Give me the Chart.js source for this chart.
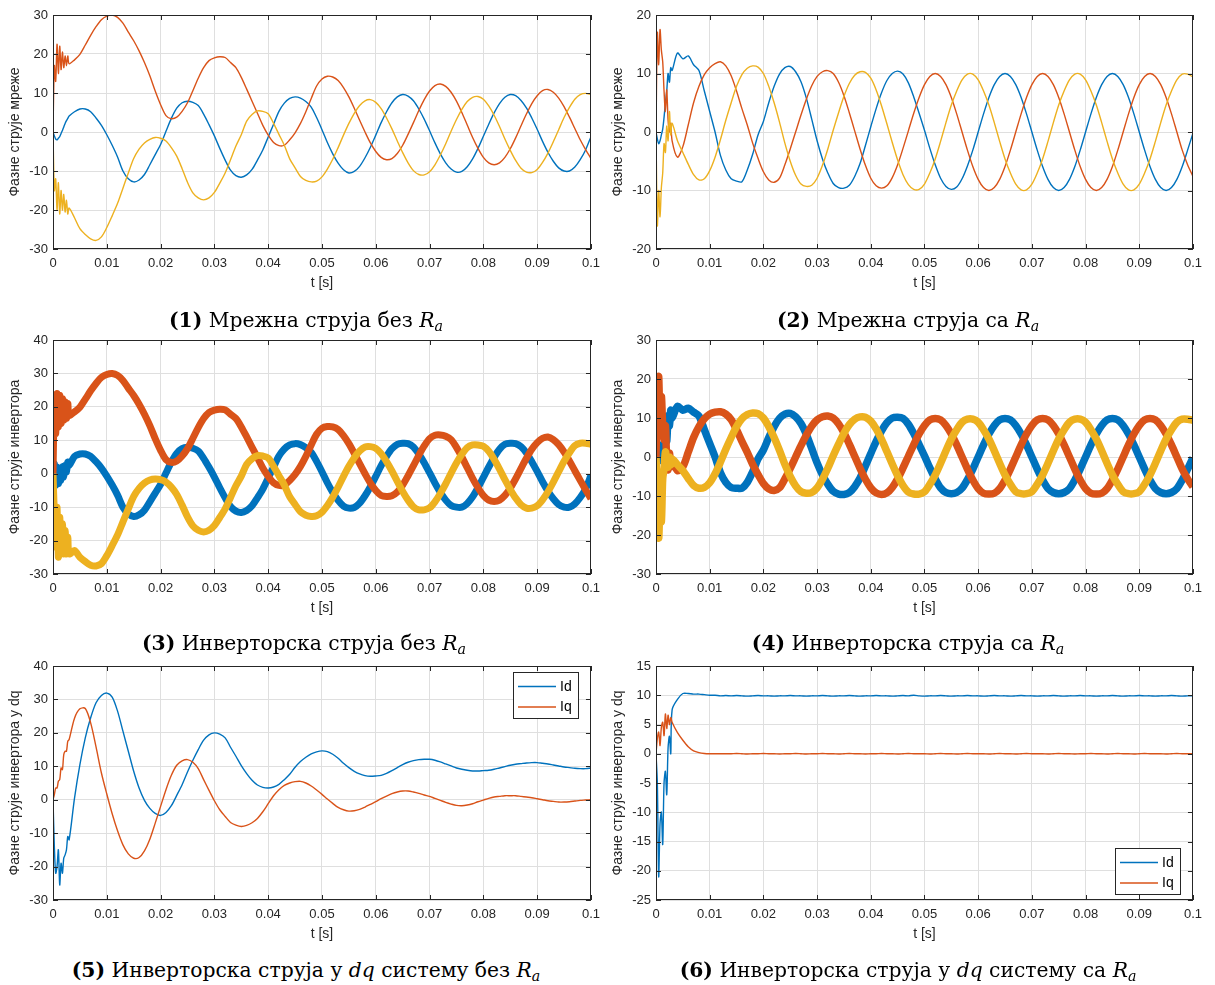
<!DOCTYPE html>
<html>
<head>
<meta charset="utf-8">
<script src="https://cdn.jsdelivr.net/npm/chart.js@4.4.1/dist/chart.umd.min.js"></script>
<style>
  body { margin: 0; background: #fff; width: 1215px; height: 985px; position: relative; overflow: hidden; }
  canvas { position: absolute; }
  .cap { position: absolute; width: 600px; text-align: center; white-space: nowrap;
         font-family: "DejaVu Serif", "Liberation Serif", serif; font-size: 20.3px; line-height: 24px; color: #000; }
  .cap sub { font-size: 0.7em; vertical-align: -0.25em; line-height: 0; }
</style>
</head>
<body>
<canvas id="c1" width="607" height="300" style="left:0;top:0"></canvas>
<canvas id="c2" width="606" height="300" style="left:603px;top:0"></canvas>
<canvas id="c3" width="607" height="300" style="left:0;top:325px"></canvas>
<canvas id="c4" width="606" height="300" style="left:603px;top:325px"></canvas>
<canvas id="c5" width="607" height="300" style="left:0;top:651px"></canvas>
<canvas id="c6" width="606" height="300" style="left:603px;top:651px"></canvas>

<div class="cap" style="left:6px;top:308px"><b>(1)</b> Мрежна струја без <i>R</i><sub><i>a</i></sub></div>
<div class="cap" style="left:608px;top:308px"><b>(2)</b> Мрежна струја са <i>R</i><sub><i>a</i></sub></div>
<div class="cap" style="left:4px;top:631px"><b>(3)</b> Инверторска струја без <i>R</i><sub><i>a</i></sub></div>
<div class="cap" style="left:608px;top:631px"><b>(4)</b> Инверторска струја са <i>R</i><sub><i>a</i></sub></div>
<div class="cap" style="left:6px;top:958px"><b>(5)</b> Инверторска струја у <i>dq</i> систему без <i>R</i><sub><i>a</i></sub></div>
<div class="cap" style="left:608px;top:958px"><b>(6)</b> Инверторска струја у <i>dq</i> систему са <i>R</i><sub><i>a</i></sub></div>

<script>
// time samples in ms (denser at the start, where the switching transient is)
const timeMs = [0, 0.25, 0.5, 0.75, 1, 1.25, 1.5, 1.75, 2, 2.25, 2.5, 2.75, 3,
  4, 5, 6, 7, 8, 9, 10, 11, 12, 13,
  14, 15, 16, 17, 18, 19, 20, 21, 22, 23,
  24, 25, 26, 27, 28, 29, 30, 31, 32, 33,
  34, 35, 36, 37, 38, 39, 40, 41, 42, 43,
  44, 45, 46, 47, 48, 49, 50, 51, 52, 53,
  54, 55, 56, 57, 58, 59, 60, 61, 62, 63,
  64, 65, 66, 67, 68, 69, 70, 71, 72, 73,
  74, 75, 76, 77, 78, 79, 80, 81, 82, 83,
  84, 85, 86, 87, 88, 89, 90, 91, 92, 93,
  94, 95, 96, 97, 98, 99, 100];

const xTickValues = [0, 0.01, 0.02, 0.03, 0.04, 0.05, 0.06, 0.07, 0.08, 0.09, 0.1];
const xTickLabels = ['0', '0.01', '0.02', '0.03', '0.04', '0.05', '0.06', '0.07', '0.08', '0.09', '0.1'];

// (1) grid current without Ra
const gridNoRaA = [0, -1.0, -1.8, -2.0, -1.6, -1.2, -0.4, 0.4, 1.3, 2.2, 2.9, 3.5, 4.1,
  5.2, 5.9, 5.9, 5.2, 3.6, 1.7, -0.7, -3.4, -6.4, -10.0,
  -12.0, -12.8, -12.3, -10.9, -8.4, -5.8, -3.2, 0.2, 3.5, 6.1,
  7.5, 7.9, 7.6, 6.8, 4.6, 1.9, -1.0, -4.2, -7.2, -9.8,
  -11.2, -11.6, -11.0, -9.6, -7.2, -4.6, -1.3, 2.0, 5.3, 7.4,
  8.6, 9.0, 8.7, 7.8, 6.4, 3.7, 0.6, -2.7, -5.6, -8.0,
  -9.7, -10.5, -10.1, -8.8, -6.6, -3.9, -0.8, 2.4, 5.2, 7.5,
  9.0, 9.6, 9.2, 8.0, 5.9, 3.3, 0.3, -2.8, -5.6, -7.9,
  -9.5, -10.3, -10.1, -8.9, -6.9, -4.2, -1.1, 2.0, 4.9, 7.3,
  8.9, 9.6, 9.3, 8.1, 6.2, 3.6, 0.7, -2.4, -5.2, -7.5,
  -9.2, -10.0, -10.0, -9.0, -7.1, -4.6, -1.2];
const gridNoRaB = [0, 17, 13, 22.5, 15, 22, 16, 20.5, 16.5, 19.5, 17, 19.5, 17.5,
  18.5, 19.9, 22.3, 24.8, 27.0, 28.8, 29.7, 30.0, 29.4, 27.9,
  25.6, 23.4, 20.8, 17.8, 14.4, 10.5, 7.0, 4.2, 3.4, 3.8,
  5.3, 7.5, 10.6, 13.8, 16.5, 18.3, 19.0, 19.3, 19.1, 17.8,
  16.5, 14.0, 11.0, 7.9, 4.8, 1.7, -0.8, -2.7, -3.5, -3.4,
  -2.0, -0.2, 2.2, 5.2, 8.6, 11.8, 13.6, 14.3, 14.1, 13.2,
  11.4, 9.0, 6.1, 3.0, 0, -2.8, -5.0, -6.5, -7.1, -6.8,
  -5.5, -3.4, -0.6, 2.4, 5.5, 8.3, 10.5, 11.9, 12.3, 11.7,
  10.2, 7.9, 5.0, 1.8, -1.4, -4.2, -6.5, -7.9, -8.4, -7.9,
  -6.5, -4.3, -1.5, 1.6, 4.6, 7.3, 9.3, 10.6, 10.9, 10.2,
  8.7, 6.5, 3.8, 0.9, -2.0, -4.5, -6.8];
const gridNoRaC = [0, -15, -12, -20, -13, -21, -15, -20, -16, -20.5, -17.5, -21, -19.5,
  -22.0, -24.8, -26.3, -27.4, -27.8, -26.9, -24.5, -21.5, -18.3, -14.4,
  -10.5, -6.8, -4.4, -2.8, -1.9, -1.4, -1.6, -2.3, -4.0, -6.2,
  -9.4, -12.9, -15.6, -16.9, -17.4, -16.9, -15.5, -13.1, -10.5, -7.1,
  -3.6, -0.7, 2.8, 4.5, 5.4, 5.3, 4.7, 2.2, -0.6, -3.4,
  -6.9, -9.2, -11.4, -12.4, -12.8, -12.6, -11.5, -9.5, -7.0, -4.0,
  -0.8, 2.2, 4.8, 6.8, 8.0, 8.3, 7.6, 6.0, 3.6, 0.8,
  -2.3, -5.3, -7.9, -9.9, -10.9, -11.0, -10.2, -8.4, -5.9, -3.0,
  0.2, 3.2, 5.8, 7.8, 8.9, 9.1, 8.4, 6.7, 4.3, 1.4,
  -1.8, -4.7, -7.3, -9.3, -10.3, -10.4, -9.6, -7.8, -5.4, -2.5,
  0.6, 3.7, 6.3, 8.4, 9.6, 9.9, 9.6];

// (2) grid current with Ra
const gridRaA = [0, -1.2, -2.0, -1.5, -0.5, 0.5, 2.5, 5.0, 7.0, 10.0, 8.5, 11.0, 10.5,
  13.5, 12.5, 13.0, 11.5, 10.5, 7.0, 3.5, 0, -4.0, -6.5,
  -8.0, -8.4, -8.5, -6.5, -3.8, -0.5, 1.8, 5.0, 7.8, 9.9,
  11.0, 11.2, 10.3, 8.6, 5.8, 2.2, -1.5, -4.6, -7.0, -8.8,
  -9.5, -9.6, -9.1, -7.6, -5.4, -2.3, 0.9, 4.0, 6.7, 8.8,
  10.0, 10.4, 9.9, 8.4, 6.0, 3.2, 0.3, -2.8, -5.6, -7.9,
  -9.3, -9.8, -9.4, -8.0, -5.8, -3.1, 0, 3.1, 5.9, 8.1,
  9.5, 10.0, 9.5, 8.1, 5.9, 3.1, 0, -3.1, -5.9, -8.1,
  -9.5, -10.0, -9.5, -8.1, -5.9, -3.1, 0, 3.1, 5.9, 8.1,
  9.5, 10.0, 9.5, 8.1, 5.9, 3.1, 0, -3.1, -5.9, -8.1,
  -9.5, -10.0, -9.5, -8.1, -5.9, -3.1, -0.2];
const gridRaB = [0, 17.0, 11.5, 17.5, 14.0, 12.0, 7.0, 3.5, 7.2, 2.0, 0, 1.5, -1.5,
  -4.3, -2.5, 1.2, 5.0, 7.8, 9.8, 11.0, 11.7, 12.0, 11.3,
  9.6, 7.0, 4.0, 1.2, -1.9, -4.5, -6.8, -8.2, -8.6, -7.9,
  -5.6, -2.9, 0, 2.9, 5.6, 7.9, 9.5, 10.3, 10.5, 10.0,
  8.5, 6.2, 3.3, 0.2, -2.9, -5.7, -7.9, -9.2, -9.6, -9.2,
  -7.8, -5.6, -2.8, 0.2, 3.2, 5.9, 8.1, 9.5, 10.0, 9.5,
  8.1, 5.9, 3.1, 0, -3.1, -5.9, -8.1, -9.5, -10.0, -9.5,
  -8.1, -5.9, -3.1, 0, 3.1, 5.9, 8.1, 9.5, 10.0, 9.5,
  8.1, 5.9, 3.1, 0, -3.1, -5.9, -8.1, -9.5, -10.0, -9.5,
  -8.1, -5.9, -3.1, 0, 3.1, 5.9, 8.1, 9.5, 10.0, 9.5,
  8.1, 5.9, 3.1, 0, -3.1, -5.6, -7.6];
const gridRaC = [0, -16.0, -10.0, -14.5, -9.5, -7.0, -2.0, -3.5, 1.0, -1.5, 3.5, -0.5, 1.5,
  -1.5, -3.5, -5.5, -7.3, -8.2, -8.0, -6.6, -4.3, -1.3, 2.0,
  5.0, 7.8, 9.8, 10.9, 11.3, 11.1, 10.0, 7.8, 5.0, 1.7,
  -1.9, -5.0, -7.4, -8.9, -9.3, -9.1, -7.9, -5.7, -2.9, 0.3,
  3.3, 6.1, 8.3, 9.7, 10.3, 10.2, 9.2, 7.2, 4.5, 1.4,
  -1.8, -4.8, -7.3, -9.0, -9.8, -9.8, -8.9, -7.0, -4.6, -1.6,
  1.6, 4.6, 7.0, 8.9, 9.9, 9.9, 8.9, 7.0, 4.6, 1.6,
  -1.6, -4.6, -7.0, -8.9, -9.9, -9.9, -8.9, -7.0, -4.6, -1.6,
  1.6, 4.6, 7.0, 8.9, 9.9, 9.9, 8.9, 7.0, 4.6, 1.6,
  -1.6, -4.6, -7.0, -8.9, -9.9, -9.9, -8.9, -7.0, -4.6, -1.6,
  1.6, 4.6, 7.0, 8.9, 9.9, 9.9, 9.4];

// (3) inverter current without Ra
const invNoRaA = [0, 3.0, -3.5, 2.0, -3.0, 1.5, -2.0, 2.0, -1.0, 2.5, 0.5, 3.5, 2.5,
  5.2, 5.9, 5.9, 5.2, 3.6, 1.7, -0.7, -3.4, -6.4, -10.0,
  -12.0, -12.8, -12.3, -10.9, -8.4, -5.8, -3.2, 0.2, 3.5, 6.1,
  7.5, 7.9, 7.6, 6.8, 4.6, 1.9, -1.0, -4.2, -7.2, -9.8,
  -11.2, -11.6, -11.0, -9.6, -7.2, -4.6, -1.3, 2.0, 5.3, 7.4,
  8.6, 9.0, 8.7, 7.8, 6.4, 3.7, 0.6, -2.7, -5.6, -8.0,
  -9.7, -10.3, -10.1, -8.8, -6.6, -3.9, -0.8, 2.4, 5.2, 7.5,
  8.8, 9.1, 9.0, 8.0, 5.9, 3.3, 0.3, -2.8, -5.6, -7.9,
  -9.5, -10.0, -10.0, -8.9, -6.9, -4.2, -1.1, 2.0, 4.9, 7.3,
  8.8, 9.1, 9.0, 8.1, 6.2, 3.6, 0.7, -2.4, -5.2, -7.5,
  -9.2, -10.0, -10.0, -9.0, -7.1, -4.6, -0.5];
const invNoRaB = [0, 20, 12, 24, 14, 23.5, 15, 22.5, 16, 21.5, 16.5, 21, 17.5,
  18.5, 19.9, 22.3, 24.8, 27.0, 28.8, 29.7, 30.0, 29.4, 27.9,
  25.6, 23.4, 20.8, 17.8, 14.4, 10.5, 7.0, 4.2, 3.4, 3.8,
  5.3, 7.5, 10.6, 13.8, 16.5, 18.3, 19.0, 19.3, 19.1, 17.8,
  16.5, 14.0, 11.0, 7.9, 4.8, 1.7, -0.8, -2.7, -3.5, -3.4,
  -2.0, -0.2, 2.2, 5.2, 8.6, 11.8, 13.6, 14.1, 14.0, 13.2,
  11.4, 9.0, 6.1, 3.0, 0, -2.8, -5.0, -6.5, -6.8, -6.6,
  -5.5, -3.4, -0.6, 2.4, 5.5, 8.3, 10.5, 11.5, 11.6, 11.2,
  10.2, 7.9, 5.0, 1.8, -1.4, -4.2, -6.5, -7.9, -8.3, -7.9,
  -6.5, -4.3, -1.5, 1.6, 4.6, 7.3, 9.3, 10.6, 11.0, 10.2,
  8.7, 6.5, 3.8, 0.9, -2.0, -4.8, -7.5];
const invNoRaC = [0, -12, -22, -10, -25, -13, -24, -15, -24, -17, -24, -19, -24,
  -23.0, -25.0, -26.3, -27.4, -27.6, -26.9, -24.5, -21.5, -18.3, -14.4,
  -10.5, -6.8, -4.4, -2.8, -1.9, -1.6, -1.8, -2.5, -4.0, -6.2,
  -9.4, -12.9, -15.6, -16.9, -17.4, -16.9, -15.5, -13.1, -10.5, -7.1,
  -3.6, -0.7, 2.8, 4.5, 5.4, 5.3, 4.7, 2.2, -0.6, -3.4,
  -6.9, -9.2, -11.4, -12.4, -12.8, -12.6, -11.5, -9.5, -7.0, -4.0,
  -0.8, 2.2, 4.8, 6.8, 8.0, 8.1, 7.6, 6.0, 3.6, 0.8,
  -2.3, -5.3, -7.9, -9.9, -10.8, -10.8, -10.2, -8.4, -5.9, -3.0,
  0.2, 3.2, 5.8, 7.8, 8.6, 8.6, 8.2, 6.7, 4.3, 1.4,
  -1.8, -4.7, -7.3, -9.3, -10.3, -10.3, -9.6, -7.8, -5.4, -2.5,
  0.6, 3.7, 6.3, 8.4, 9.1, 9.1, 8.8];

// (4) inverter current with Ra
const invRaA = [0, 1.5, -1.0, 3.0, 0, 2.5, 1.0, 5.0, 4.0, 10.6, 8.0, 12.0, 10.0,
  13.0, 12.0, 12.5, 11.5, 10.5, 7.0, 3.5, 0, -4.0, -6.5,
  -7.8, -8.0, -8.0, -6.5, -3.8, -0.5, 1.8, 5.0, 7.8, 9.9,
  11.0, 11.2, 10.3, 8.6, 5.8, 2.2, -1.5, -4.6, -7.0, -8.8,
  -9.5, -9.6, -9.1, -7.6, -5.4, -2.3, 0.9, 4.0, 6.7, 8.8,
  10.0, 10.2, 9.9, 8.4, 6.0, 3.2, 0.3, -2.8, -5.6, -7.9,
  -9.1, -9.4, -9.1, -8.0, -5.8, -3.1, 0, 3.1, 5.9, 8.1,
  9.5, 9.9, 9.5, 8.1, 5.9, 3.1, 0, -3.1, -5.9, -8.1,
  -9.1, -9.4, -9.1, -8.1, -5.9, -3.1, 0, 3.1, 5.9, 8.1,
  9.5, 9.9, 9.5, 8.1, 5.9, 3.1, 0, -3.1, -5.9, -8.1,
  -9.1, -9.4, -9.1, -8.1, -5.9, -3.1, -0.2];
const invRaB = [0, 15.5, 20.6, 6.9, 15.5, 8.0, 4.4, 8.0, -1.0, -3.3, 1.0, -2.5, -1.0,
  -3.5, -2.5, 1.2, 5.0, 7.8, 9.8, 11.0, 11.5, 11.6, 11.0,
  9.6, 7.0, 4.0, 1.2, -1.9, -4.5, -6.8, -8.2, -8.6, -7.9,
  -5.6, -2.9, 0, 2.9, 5.6, 7.9, 9.5, 10.3, 10.5, 10.0,
  8.5, 6.2, 3.3, 0.2, -2.9, -5.7, -7.9, -9.2, -9.6, -9.2,
  -7.8, -5.6, -2.8, 0.2, 3.2, 5.9, 8.1, 9.5, 9.9, 9.5,
  8.1, 5.9, 3.1, 0, -3.1, -5.9, -8.1, -9.3, -9.5, -9.3,
  -8.1, -5.9, -3.1, 0, 3.1, 5.9, 8.1, 9.5, 9.9, 9.5,
  8.1, 5.9, 3.1, 0, -3.1, -5.9, -8.1, -9.3, -9.5, -9.3,
  -8.1, -5.9, -3.1, 0, 3.1, 5.9, 8.1, 9.5, 9.9, 9.5,
  8.1, 5.9, 3.1, 0, -3.1, -5.6, -7.6];
const invRaC = [0, -8.5, -20.8, -12.4, -16.6, -5.6, -3.0, 1.3, -1.0, -2.6, 0, -2.0, -0.5,
  -2.0, -3.5, -5.5, -7.3, -8.0, -7.8, -6.6, -4.3, -1.3, 2.0,
  5.0, 7.8, 9.8, 10.9, 11.3, 11.1, 10.0, 7.8, 5.0, 1.7,
  -1.9, -5.0, -7.4, -8.9, -9.3, -9.1, -7.9, -5.7, -2.9, 0.3,
  3.3, 6.1, 8.3, 9.7, 10.3, 10.2, 9.2, 7.2, 4.5, 1.4,
  -1.8, -4.8, -7.3, -9.0, -9.5, -9.5, -8.9, -7.0, -4.6, -1.6,
  1.6, 4.6, 7.0, 8.9, 9.7, 9.7, 8.9, 7.0, 4.6, 1.6,
  -1.6, -4.6, -7.0, -8.9, -9.4, -9.4, -8.9, -7.0, -4.6, -1.6,
  1.6, 4.6, 7.0, 8.9, 9.7, 9.7, 8.9, 7.0, 4.6, 1.6,
  -1.6, -4.6, -7.0, -8.9, -9.4, -9.4, -8.9, -7.0, -4.6, -1.6,
  1.6, 4.6, 7.0, 8.9, 9.7, 9.7, 9.4];

// (5) dq current without Ra
const dqNoRaId = [0, -14, -22, -20, -15, -25.5, -19, -22, -17.5, -16.5, -15, -11, -12,
  0.5, 10.5, 18.5, 24.5, 29.0, 31.2, 31.9, 30.7, 26.5, 20.5,
  14.5, 8.5, 3.5, -0.2, -2.6, -4.1, -4.7, -3.8, -1.8, 1.3,
  4.5, 8.3, 11.8, 15.0, 17.8, 19.4, 20.0, 19.6, 18.5, 15.7,
  13.0, 10.2, 7.8, 5.8, 4.4, 3.7, 3.5, 3.8, 4.6, 6.0,
  7.6, 9.7, 11.4, 12.7, 13.7, 14.3, 14.6, 14.4, 13.6, 12.4,
  10.9, 9.6, 8.5, 7.7, 7.2, 7.0, 7.1, 7.3, 7.9, 8.7,
  9.6, 10.5, 11.2, 11.7, 12.0, 12.1, 12.1, 11.8, 11.3, 10.7,
  10.1, 9.5, 9.1, 8.8, 8.6, 8.6, 8.7, 8.8, 9.1, 9.5,
  9.9, 10.3, 10.6, 10.8, 11.0, 11.1, 11.1, 10.9, 10.7, 10.4,
  10.1, 9.8, 9.6, 9.4, 9.3, 9.3, 9.5];
const dqNoRaIq = [0, 1.5, 3.5, 3.5, 5.5, 6, 9.5, 9, 13.5, 14.5, 14.5, 17.5, 18,
  24.4, 27.2, 27.3, 23.0, 15.8, 8.0, 1.7, -4.2, -9.3, -13.5,
  -16.2, -17.5, -17.3, -15.3, -11.8, -7.0, -2.0, 3.0, 7.3, 10.3,
  11.6, 12.0, 11.2, 9.3, 6.0, 2.8, -0.3, -3.0, -5.0, -6.8,
  -7.6, -8.0, -7.7, -6.9, -5.6, -3.6, -1.2, 1.2, 3.0, 4.3,
  5.0, 5.4, 5.5, 5.0, 4.1, 2.9, 1.6, 0.2, -1.1, -2.3,
  -3.0, -3.4, -3.3, -2.9, -2.2, -1.4, -0.6, 0.3, 1.1, 1.8,
  2.3, 2.6, 2.6, 2.3, 1.9, 1.4, 1.0, 0.4, -0.2, -0.8,
  -1.3, -1.7, -1.8, -1.6, -1.2, -0.6, -0.1, 0.4, 0.8, 1.0,
  1.2, 1.2, 1.2, 1.0, 0.8, 0.6, 0.3, 0, -0.3, -0.5,
  -0.7, -0.7, -0.6, -0.4, -0.2, -0.1, 0];

// (6) dq current with Ra
const dqRaId = [0, -5.0, -21.0, -12.0, -10.0, -15.5, -5.0, -3.0, -7.0, 1.0, 3.0, 0.0, 7.5,
  9.3, 10.3, 10.3, 10.2, 10.2, 10.1, 10.0, 10.0, 9.9, 9.95,
  9.9, 9.95, 9.9, 9.85, 9.9, 9.95, 9.9, 9.9, 9.85, 9.9,
  9.9, 9.95, 9.9, 9.9, 9.85, 9.9, 9.9, 9.95, 9.9, 9.85,
  9.9, 9.9, 9.95, 9.9, 9.85, 9.9, 9.9, 9.95, 9.9, 9.9,
  9.85, 9.9, 9.95, 9.9, 10.0, 9.9, 9.85, 9.9, 9.9, 9.95,
  9.9, 9.85, 9.9, 9.9, 9.95, 9.9, 9.9, 9.85, 9.9, 9.95,
  9.9, 9.9, 9.85, 9.9, 9.95, 9.9, 9.9, 9.85, 9.9, 9.9,
  9.95, 9.9, 9.85, 9.9, 9.9, 9.95, 9.9, 9.9, 9.85, 9.9,
  9.9, 9.95, 9.9, 9.85, 9.9, 9.9, 9.95, 9.9, 9.9, 9.85,
  9.9, 9.9, 9.95, 9.9, 9.85, 9.9, 9.9];
const dqRaIq = [0, 2.6, 3.7, 1.4, 4.5, 5.4, 3.1, 6.8, 4.3, 6.6, 5.0, 6.2, 5.4,
  3.6, 2.3, 1.2, 0.5, 0.2, 0.05, 0, 0, 0, 0,
  0, 0.05, 0, -0.05, 0, 0, 0.05, 0, 0, -0.05,
  0, 0, 0.05, 0, -0.05, 0, 0, 0.05, 0, 0,
  -0.05, 0, 0.05, 0, 0, -0.05, 0, 0, 0.05, 0,
  0, -0.05, 0, 0.05, 0, 0, 0, -0.05, 0, 0.05,
  0, 0, -0.05, 0, 0.05, 0, 0, 0, -0.05, 0,
  0.05, 0, 0, -0.05, 0, 0.05, 0, 0, 0, -0.05,
  0, 0.05, 0, 0, -0.05, 0, 0, 0.05, 0, 0,
  -0.05, 0, 0.05, 0, 0, -0.05, 0, 0.05, 0, 0,
  0, -0.05, 0, 0.05, 0, 0, 0];

const yTicks1 = [-30, -20, -10, 0, 10, 20, 30];
const yTicks2 = [-20, -10, 0, 10, 20];
const yTicks3 = [-30, -20, -10, 0, 10, 20, 30, 40];
const yTicks6 = [-25, -20, -15, -10, -5, 0, 5, 10, 15];

const blue = '#0072BD', orange = '#D95319', yellow = '#EDB120';
const axisGray = '#262626', gridGray = '#dfdfdf';

Chart.defaults.font.family = '"Liberation Sans", Arial, sans-serif';
Chart.defaults.font.size = 13;
Chart.defaults.color = axisGray;

// Matlab style box, inward tick marks and optional boxed legend
const boxPlugin = {
  id: 'matlabBox',
  afterDraw(chart, args, opts) {
    const {ctx, chartArea: a, scales: {x, y}} = chart;
    ctx.save();
    ctx.strokeStyle = axisGray;
    ctx.lineWidth = 1;
    ctx.strokeRect(Math.round(a.left) + 0.5, Math.round(a.top) + 0.5,
      Math.round(a.right - a.left) - 1, Math.round(a.bottom - a.top) - 1);
    ctx.beginPath();
    x.ticks.forEach(t => {
      const px = Math.round(x.getPixelForValue(t.value)) + 0.5;
      ctx.moveTo(px, a.bottom); ctx.lineTo(px, a.bottom - 5);
      ctx.moveTo(px, a.top); ctx.lineTo(px, a.top + 5);
    });
    y.ticks.forEach(t => {
      const py = Math.round(y.getPixelForValue(t.value)) + 0.5;
      ctx.moveTo(a.left, py); ctx.lineTo(a.left + 5, py);
      ctx.moveTo(a.right, py); ctx.lineTo(a.right - 5, py);
    });
    ctx.stroke();

    if (opts.legend) {
      const w = 65, h = 46;
      const bx = Math.round(a.right - 13 - w);
      const by = Math.round(opts.legend === 'top' ? a.top + 6 : a.bottom - 6 - h);
      ctx.fillStyle = '#fff';
      ctx.fillRect(bx, by, w, h);
      ctx.strokeStyle = axisGray;
      ctx.strokeRect(bx + 0.5, by + 0.5, w, h);
      ctx.font = '14px "Liberation Sans", Arial, sans-serif';
      ctx.textBaseline = 'middle';
      chart.data.datasets.forEach((ds, i) => {
        const ly = by + 14.5 + i * 20.5;
        ctx.strokeStyle = ds.borderColor;
        ctx.lineWidth = 1.4;
        ctx.beginPath();
        ctx.moveTo(bx + 5, ly); ctx.lineTo(bx + 43, ly);
        ctx.stroke();
        ctx.fillStyle = '#000';
        ctx.fillText(ds.label, bx + 47, ly + 0.5);
      });
    }
    ctx.restore();
  }
};

function makeChart(id, yTicks, yLabel, series, lineWidth, legend) {
  const ctx = document.getElementById(id).getContext('2d');
  return new Chart(ctx, {
    type: 'line',
    data: {
      datasets: series.map((s, i) => ({
        label: s.label,
        data: timeMs.map((t, k) => ({x: t / 1000, y: s.values[k]})),
        borderColor: s.color,
        borderWidth: lineWidth,
        pointRadius: 0,
        tension: 0.3,
        order: series.length - i
      }))
    },
    options: {
      responsive: false,
      animation: false,
      devicePixelRatio: 1,
      events: [],
      layout: {padding: {left: 0, right: 12, top: 15, bottom: 0}},
      plugins: {
        legend: {display: false},
        tooltip: {enabled: false},
        matlabBox: {legend: legend}
      },
      scales: {
        x: {
          type: 'linear', min: 0, max: 0.1,
          afterBuildTicks: s => { s.ticks = xTickValues.map(v => ({value: v})); },
          afterFit: s => { s.height = 51; },
          ticks: {callback: (v, i) => xTickLabels[i], padding: 7, maxRotation: 0, autoSkip: false},
          grid: {color: gridGray, drawTicks: false},
          border: {display: false},
          title: {display: true, text: 't [s]', font: {size: 14}, padding: {top: 0, bottom: 8}}
        },
        y: {
          type: 'linear', min: yTicks[0], max: yTicks[yTicks.length - 1],
          afterBuildTicks: s => { s.ticks = yTicks.map(v => ({value: v})); },
          afterFit: s => { s.width = 53; },
          ticks: {callback: v => String(v), padding: 5, autoSkip: false},
          grid: {color: gridGray, drawTicks: false},
          border: {display: false},
          title: {display: true, text: yLabel, font: {size: 14}, padding: {top: 7, bottom: 0}}
        }
      }
    },
    plugins: [boxPlugin]
  });
}

const labelGrid = 'Фазне струје мреже';
const labelInv = 'Фазне струје инвертора';
const labelDq = 'Фазне струје инвертора у dq';

makeChart('c1', yTicks1, labelGrid, [
  {label: 'a', values: gridNoRaA, color: blue},
  {label: 'b', values: gridNoRaB, color: orange},
  {label: 'c', values: gridNoRaC, color: yellow}], 1.4);
makeChart('c2', yTicks2, labelGrid, [
  {label: 'a', values: gridRaA, color: blue},
  {label: 'b', values: gridRaB, color: orange},
  {label: 'c', values: gridRaC, color: yellow}], 1.4);
makeChart('c3', yTicks3, labelInv, [
  {label: 'a', values: invNoRaA, color: blue},
  {label: 'b', values: invNoRaB, color: orange},
  {label: 'c', values: invNoRaC, color: yellow}], 7);
makeChart('c4', yTicks1, labelInv, [
  {label: 'a', values: invRaA, color: blue},
  {label: 'b', values: invRaB, color: orange},
  {label: 'c', values: invRaC, color: yellow}], 7.5);
makeChart('c5', yTicks3, labelDq, [
  {label: 'Id', values: dqNoRaId, color: blue},
  {label: 'Iq', values: dqNoRaIq, color: orange}], 1.4, 'top');
makeChart('c6', yTicks6, labelDq, [
  {label: 'Id', values: dqRaId, color: blue},
  {label: 'Iq', values: dqRaIq, color: orange}], 1.4, 'bottom');
</script>
</body>
</html>
